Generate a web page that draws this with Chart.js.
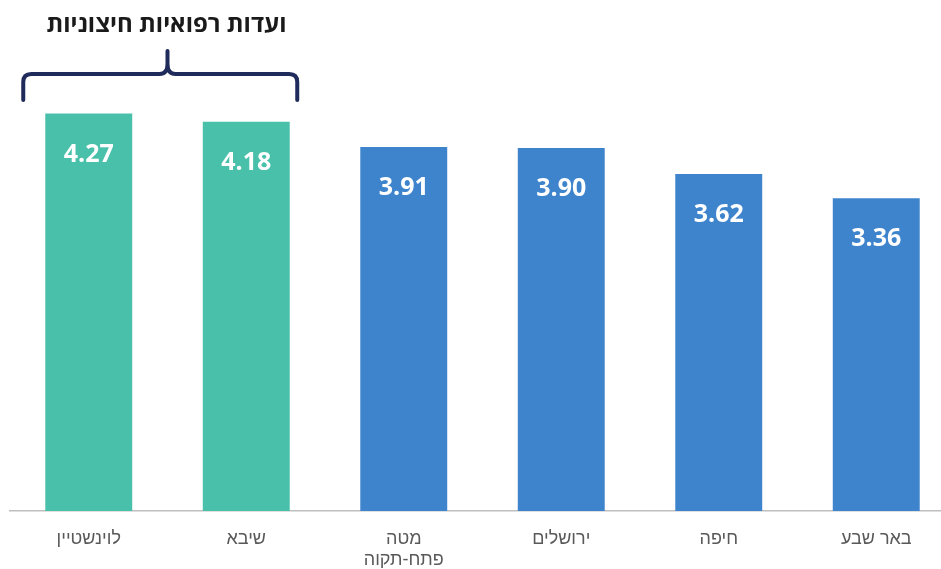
<!DOCTYPE html>
<html>
<head>
<meta charset="utf-8">
<script src="https://cdn.jsdelivr.net/npm/chart.js@4.4.0/dist/chart.umd.min.js"></script>
<style>
  html, body { margin: 0; padding: 0; background: #fff; overflow: hidden; }
  #wrap { width: 941px; height: 569px; overflow: hidden; position: relative; }
</style>
</head>
<body>
<div id="wrap"><canvas id="chart" width="956" height="569"></canvas></div>
<script>
const hospitals = ['לוינשטיין', 'שיבא', ['מטה', 'פתח-תקוה'], 'ירושלים', 'חיפה', 'באר שבע'];
const scores = [4.27, 4.18, 3.91, 3.90, 3.62, 3.36];
const isExternal = [true, true, false, false, false, false];
const bracketTitle = 'ועדות רפואיות חיצוניות';

const green = '#48c0aa';
const blue = '#3e84cc';

// value labels inside bars + bracket over the external committees
const overlay = {
  id: 'overlay',
  afterDatasetsDraw(chart) {
    const ctx = chart.ctx;
    const meta = chart.getDatasetMeta(0);
    ctx.save();
    ctx.fillStyle = '#fff';
    ctx.font = 'bold 25px "Open Sans", "DejaVu Sans", sans-serif';
    ctx.textAlign = 'center';
    ctx.textBaseline = 'middle';
    meta.data.forEach((bar, i) => {
      ctx.fillText(scores[i].toFixed(2), bar.x, bar.y + 41);
    });

    const xs = chart.scales.x;
    const x0 = xs.getPixelForValue(0), x1 = xs.getPixelForValue(1);
    const L = x0 - 65.5, R = x1 + 51, C = (x0 + x1) / 2;
    const yh = 74, yb = 100, yt = 51;
    ctx.strokeStyle = '#1f2b5b';
    ctx.lineWidth = 4;
    ctx.lineCap = 'round';
    ctx.lineJoin = 'round';
    ctx.beginPath();
    ctx.moveTo(L, yb);
    ctx.lineTo(L, yh + 8);
    ctx.quadraticCurveTo(L, yh, L + 8, yh);
    ctx.lineTo(C - 8, yh);
    ctx.quadraticCurveTo(C, yh, C, yh - 10);
    ctx.lineTo(C, yt);
    ctx.moveTo(C, yh - 10);
    ctx.quadraticCurveTo(C, yh, C + 8, yh);
    ctx.lineTo(R - 8, yh);
    ctx.quadraticCurveTo(R, yh, R, yh + 8);
    ctx.lineTo(R, yb);
    ctx.stroke();

    ctx.fillStyle = '#1a1a1a';
    ctx.font = 'bold 24px "Open Sans", "DejaVu Sans", sans-serif';
    ctx.fillText(bracketTitle, C - 1, 25);
    ctx.restore();
  }
};

new Chart(document.getElementById('chart'), {
  type: 'bar',
  data: {
    labels: hospitals,
    datasets: [{
      data: scores,
      backgroundColor: isExternal.map(e => e ? green : blue),
      borderWidth: 0,
      categoryPercentage: 1,
      barPercentage: 0.552
    }]
  },
  options: {
    responsive: false,
    animation: false,
    layout: { padding: { top: 45.5, left: 10, right: 1, bottom: 0 } },
    plugins: { legend: { display: false }, tooltip: { enabled: false } },
    scales: {
      x: {
        grid: { display: false },
        border: { display: true, color: '#bfbfbf', width: 1.5 },
        ticks: {
          color: '#595959',
          padding: 9,
          maxRotation: 0,
          font: { family: '"Liberation Sans", "DejaVu Sans", sans-serif', size: 18, lineHeight: 1.2 }
        },
        afterFit(scale) { scale.height = 58; }
      },
      y: {
        display: false,
        min: 0,
        max: 5
      }
    }
  },
  plugins: [overlay]
});
</script>
</body>
</html>
